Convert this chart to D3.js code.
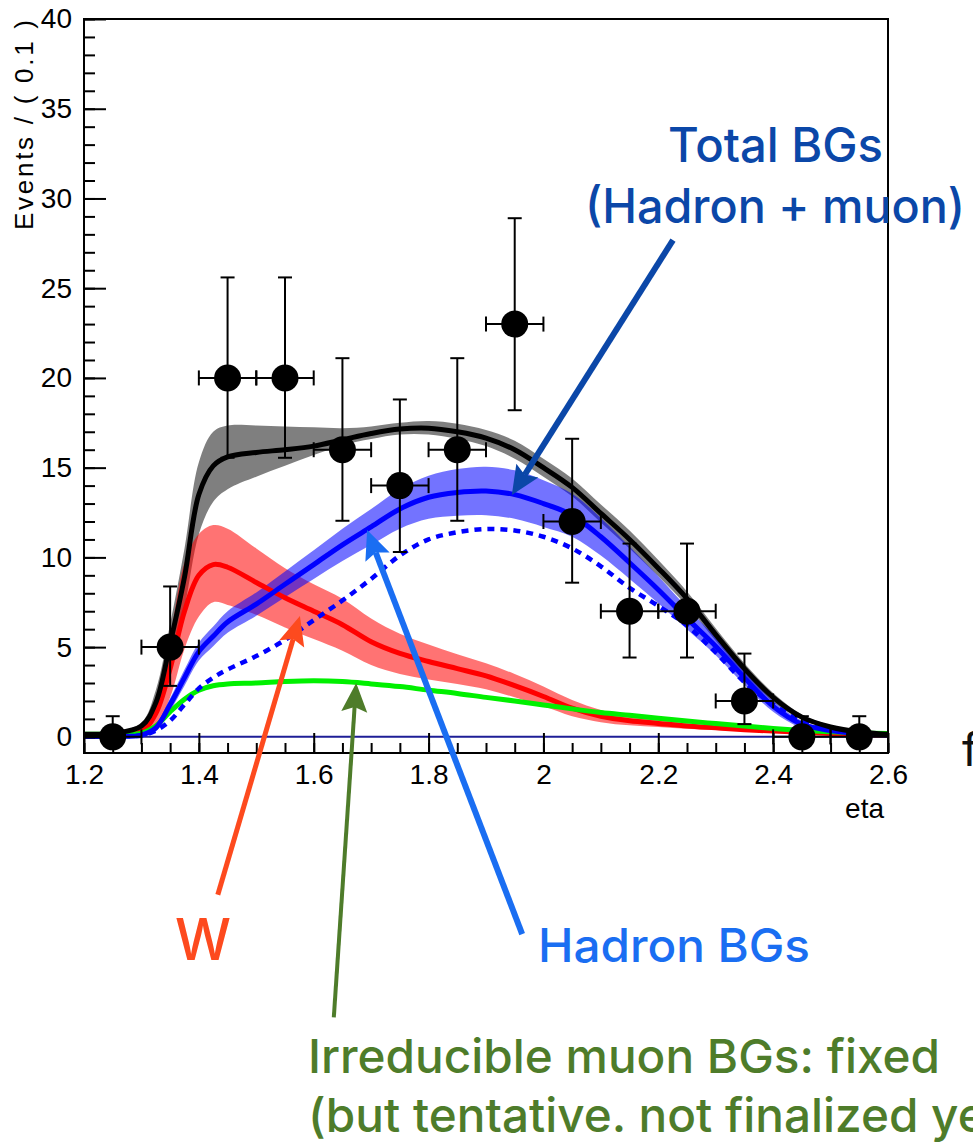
<!DOCTYPE html>
<html>
<head>
<meta charset="utf-8">
<script src="https://cdn.jsdelivr.net/npm/d3@7"></script>
<style>
  body { margin: 0; background: #fff; }
  svg { display: block; }
</style>
</head>
<body>
<svg id="chart" width="973" height="1143"></svg>
<script>
// ---- model curves, sampled on an eta grid ----
const etaGrid = [1.2, 1.25, 1.3, 1.325, 1.35, 1.375, 1.4, 1.425, 1.45, 1.5, 1.55, 1.6, 1.65, 1.7, 1.75, 1.8,
                 1.85, 1.9, 1.95, 2.0, 2.05, 2.1, 2.15, 2.2, 2.25, 2.3, 2.35, 2.4, 2.45, 2.5, 2.55, 2.6];

// total background (hadron + muon)
const totalFit   = [0.15, 0.2, 0.6, 1.9, 5.2, 8.9, 13.5, 15.1, 15.6, 15.85, 16.0, 16.2, 16.55, 16.9, 17.15, 17.2,
                    17.0, 16.65, 16.0, 15.0, 13.9, 12.45, 11.0, 9.4, 7.7, 5.7, 3.8, 2.2, 1.1, 0.55, 0.27, 0.15];
const totalUpper = [0.2, 0.25, 0.8, 2.6, 6.3, 10.5, 15.3, 17.0, 17.35, 17.35, 17.3, 17.25, 17.2, 17.3, 17.5, 17.6,
                    17.45, 17.1, 16.5, 15.5, 14.4, 12.95, 11.5, 9.85, 8.1, 6.05, 4.1, 2.45, 1.25, 0.65, 0.32, 0.18];
const totalLower = [0.1, 0.15, 0.4, 1.3, 4.0, 7.2, 11.3, 13.1, 13.8, 14.5, 15.1, 15.7, 16.25, 16.6, 16.85, 16.85,
                    16.6, 16.2, 15.5, 14.5, 13.4, 11.95, 10.5, 8.95, 7.3, 5.35, 3.5, 1.95, 0.95, 0.45, 0.22, 0.12];

// hadron background
const hadronFit   = [0.02, 0.03, 0.1, 0.5, 1.8, 3.3, 4.75, 5.6, 6.4, 7.4, 8.5, 9.6, 10.7, 11.7, 12.7, 13.35,
                     13.62, 13.7, 13.5, 13.0, 12.35, 11.15, 9.7, 8.2, 6.6, 5.05, 3.3, 1.7, 0.7, 0.35, 0.18, 0.1];
const hadronUpper = [0.03, 0.04, 0.15, 0.7, 2.15, 3.75, 5.25, 6.15, 7.0, 8.05, 9.22, 10.4, 11.6, 12.7, 13.8, 14.55,
                     14.92, 15.05, 14.85, 14.3, 13.55, 12.2, 10.6, 8.95, 7.2, 5.55, 3.7, 2.0, 0.9, 0.45, 0.23, 0.13];
const hadronLower = [0.01, 0.02, 0.05, 0.3, 1.45, 2.85, 4.25, 5.05, 5.8, 6.75, 7.78, 8.8, 9.8, 10.7, 11.6, 12.15,
                     12.32, 12.35, 12.15, 11.7, 11.15, 10.1, 8.8, 7.45, 6.0, 4.55, 2.9, 1.4, 0.5, 0.25, 0.13, 0.07];

// hadron background before the fit (dashed)
const hadronInit = [0.02, 0.03, 0.08, 0.35, 0.9, 1.8, 2.7, 3.3, 3.75, 4.5, 5.4, 6.5, 7.6, 8.8, 10.1, 11.0,
                    11.4, 11.58, 11.5, 11.15, 10.5, 9.5, 8.3, 7.3, 6.2, 4.7, 3.05, 1.8, 0.9, 0.42, 0.18, 0.1];

// W signal
const wFit   = [0.05, 0.08, 0.3, 1.3, 3.8, 7.0, 9.0, 9.6, 9.45, 8.6, 7.75, 7.0, 6.25, 5.3, 4.65, 4.2,
                3.8, 3.4, 2.85, 2.25, 1.6, 1.15, 0.9, 0.75, 0.6, 0.5, 0.4, 0.32, 0.25, 0.19, 0.14, 0.1];
const wUpper = [0.06, 0.1, 0.45, 2.0, 5.5, 9.7, 11.3, 11.8, 11.6, 10.5, 9.4, 8.5, 7.7, 6.6, 5.75, 5.15,
                4.6, 4.1, 3.5, 2.8, 2.05, 1.5, 1.18, 0.95, 0.76, 0.62, 0.5, 0.39, 0.3, 0.23, 0.17, 0.12];
const wLower = [0.04, 0.06, 0.15, 0.6, 2.2, 4.9, 6.7, 7.5, 7.35, 6.8, 6.1, 5.45, 4.8, 4.0, 3.5, 3.2,
                2.95, 2.65, 2.2, 1.7, 1.15, 0.82, 0.64, 0.55, 0.45, 0.38, 0.31, 0.25, 0.2, 0.15, 0.11, 0.08];

// irreducible muon background (fixed)
const muonFit = [0.15, 0.15, 0.2, 0.6, 1.4, 2.1, 2.6, 2.85, 2.95, 3.0, 3.08, 3.12, 3.08, 2.95, 2.8, 2.6,
                 2.42, 2.2, 2.0, 1.78, 1.56, 1.36, 1.2, 1.04, 0.88, 0.74, 0.6, 0.47, 0.36, 0.28, 0.22, 0.18];

// ---- measured data ----
const dataEta    = [1.25, 1.35, 1.45, 1.55, 1.65, 1.75, 1.85, 1.95, 2.05, 2.15, 2.25, 2.35, 2.45, 2.55];
const dataCounts = [0, 5, 20, 20, 16, 14, 16, 23, 12, 7, 7, 2, 0, 0];
const errLow     = [0, 2.16, 4.45, 4.45, 3.96, 3.7, 3.96, 4.8, 3.41, 2.58, 2.58, 1.29, 0, 0];
const errHigh    = [1.15, 3.38, 5.6, 5.6, 5.1, 4.8, 5.1, 5.9, 4.61, 3.77, 3.77, 2.64, 1.15, 1.15];
const binHalfWidth = 0.05;

// ---- axis ticks ----
const xMajorTicks = [1.2, 1.4, 1.6, 1.8, 2.0, 2.2, 2.4, 2.6];
const yMajorTicks = [0, 5, 10, 15, 20, 25, 30, 35, 40];

// ---- drawing ----
const svg = d3.select("#chart");
svg.append("rect").attr("width", 973).attr("height", 1143).attr("fill", "#fff");

const frame = { left: 84, right: 888, top: 19, bottom: 753 };
const x = d3.scaleLinear().domain([1.2, 2.6]).range([frame.left, frame.right]);
const y = d3.scaleLinear().domain([-0.9, 40]).range([frame.bottom, frame.top]);

const defs = svg.append("defs");
defs.append("clipPath").attr("id", "plot-clip")
  .append("rect").attr("x", frame.left).attr("y", frame.top)
  .attr("width", frame.right - frame.left).attr("height", frame.bottom - frame.top);

const plot = svg.append("g").attr("clip-path", "url(#plot-clip)");

// zero line
plot.append("line")
  .attr("x1", x(1.2)).attr("x2", x(2.6)).attr("y1", y(0)).attr("y2", y(0))
  .attr("stroke", "#1e1e96").attr("stroke-width", 2);

const curve = d3.curveCatmullRom.alpha(0.5);
// error bands are drawn as half-tone fills
function band(lower, upper, color, opacity) {
  const area = d3.area().curve(curve)
    .x((d, i) => x(etaGrid[i])).y0((d, i) => y(lower[i])).y1((d, i) => y(upper[i]));
  plot.append("path").datum(etaGrid).attr("d", area)
    .attr("fill", color).attr("fill-opacity", opacity);
}
function line(values, color, width, dash) {
  const gen = d3.line().curve(curve).x((d, i) => x(etaGrid[i])).y(d => y(d));
  const p = plot.append("path").datum(values).attr("d", gen)
    .attr("fill", "none").attr("stroke", color).attr("stroke-width", width)
    .attr("stroke-linejoin", "round");
  if (dash) p.attr("stroke-dasharray", dash);
}

band(totalLower, totalUpper, "#000", 0.5);
band(wLower, wUpper, "#ff0000", 0.55);
band(hadronLower, hadronUpper, "#0000ff", 0.55);

line(wFit, "#ff0000", 5);
line(muonFit, "#00f000", 5);
line(hadronInit, "#0000ff", 4.5, "7,6");
line(hadronFit, "#0000ff", 5);
line(totalFit, "#000", 5);

// data points with error bars
const pts = plot.append("g").selectAll("g").data(dataEta).join("g");
pts.each(function(e, i) {
  const g = d3.select(this);
  const cx = x(e), cy = y(dataCounts[i]);
  const yTop = y(dataCounts[i] + errHigh[i]);
  const yBot = y(dataCounts[i] - errLow[i]);
  const xl = x(e - binHalfWidth), xr = x(e + binHalfWidth);
  const s = (sel) => sel.attr("stroke", "#000").attr("stroke-width", 2);
  s(g.append("line").attr("x1", xl).attr("x2", xr).attr("y1", cy).attr("y2", cy));
  s(g.append("line").attr("x1", xl).attr("x2", xl).attr("y1", cy - 7.5).attr("y2", cy + 7.5));
  s(g.append("line").attr("x1", xr).attr("x2", xr).attr("y1", cy - 7.5).attr("y2", cy + 7.5));
  s(g.append("line").attr("x1", cx).attr("x2", cx).attr("y1", yTop).attr("y2", cy));
  s(g.append("line").attr("x1", cx - 7).attr("x2", cx + 7).attr("y1", yTop).attr("y2", yTop));
  if (errLow[i] > 0) {
    s(g.append("line").attr("x1", cx).attr("x2", cx).attr("y1", cy).attr("y2", yBot));
    s(g.append("line").attr("x1", cx - 7).attr("x2", cx + 7).attr("y1", yBot).attr("y2", yBot));
  }
  g.append("circle").attr("cx", cx).attr("cy", cy).attr("r", 13.5).attr("fill", "#000");
});

// frame
svg.append("rect")
  .attr("x", frame.left).attr("y", frame.top)
  .attr("width", frame.right - frame.left).attr("height", frame.bottom - frame.top)
  .attr("fill", "none").attr("stroke", "#000").attr("stroke-width", 2);

// axes (ticks point inward)
const axisFont = "'Liberation Sans', Arial, Helvetica, sans-serif";
const xMinor = d3.range(1.2, 2.6001, 0.05).map(v => +v.toFixed(2));
const yMinor = d3.range(0, 41, 1);

function styleAxis(g) {
  g.select(".domain").remove();
  g.selectAll("line").attr("stroke", "#000").attr("stroke-width", 2);
  g.selectAll("text").attr("fill", "#000").style("font-family", axisFont).style("font-size", "28px");
}

svg.append("g").attr("transform", `translate(0,${frame.bottom})`)
  .call(d3.axisBottom(x).tickValues(xMinor).tickSize(-10).tickFormat(""))
  .call(styleAxis);
svg.append("g").attr("transform", `translate(0,${frame.bottom})`)
  .call(d3.axisBottom(x).tickValues(xMajorTicks).tickSize(-20).tickPadding(11)
        .tickFormat(d => d3.format("")(+d.toFixed(1))))
  .call(styleAxis);

svg.append("g").attr("transform", `translate(${frame.left},0)`)
  .call(d3.axisLeft(y).tickValues(yMinor).tickSize(-11).tickFormat(""))
  .call(styleAxis);
svg.append("g").attr("transform", `translate(${frame.left},0)`)
  .call(d3.axisLeft(y).tickValues(yMajorTicks).tickSize(-22).tickPadding(12).tickFormat(d3.format("d")))
  .call(styleAxis);

// axis titles
svg.append("text").attr("x", 884).attr("y", 818).attr("text-anchor", "end")
  .style("font-family", axisFont).style("font-size", "28px").text("eta");
svg.append("text").attr("transform", "translate(33,20) rotate(-90)")
  .attr("text-anchor", "end")
  .attr("textLength", 210).attr("lengthAdjust", "spacing")
  .style("font-family", axisFont).style("font-size", "26px").text("Events / ( 0.1 )");

// ---- annotations ----
const noteFont = "Inter, 'Noto Sans', sans-serif";
function note(txt, px, py, size, color, width) {
  const t = svg.append("text").attr("x", px).attr("y", py)
    .style("font-family", noteFont).style("font-size", size + "px").style("font-weight", 500)
    .attr("fill", color).text(txt);
  if (width) t.attr("textLength", width).attr("lengthAdjust", "spacingAndGlyphs");
  return t;
}

// arrows: tail and tip in (eta, events)
const arrows = [
  { tail: [2.2256, 27.68], tip: [1.945, 13.47], color: "#0b47a8", w: 6 },
  { tail: [1.963, -10.99], tip: [1.693, 11.52], color: "#1a6ef2", w: 6 },
  { tail: [1.433, -8.8],   tip: [1.576, 6.73],  color: "#fd4a1e", w: 5 },
  { tail: [1.635, -15.63], tip: [1.674, 3.0],   color: "#4e7c2a", w: 4 }
];
arrows.forEach(a => {
  const x1 = x(a.tail[0]), y1 = y(a.tail[1]), x2 = x(a.tip[0]), y2 = y(a.tip[1]);
  const len = Math.hypot(x2 - x1, y2 - y1);
  const dx = (x2 - x1) / len, dy = (y2 - y1) / len;
  const nx = -dy, ny = dx;
  const L = 29, W = 13, notch = 5;
  const bx = x2 - dx * L, by = y2 - dy * L;
  svg.append("line").attr("x1", x1).attr("y1", y1)
    .attr("x2", x2 - dx * (L - notch)).attr("y2", y2 - dy * (L - notch))
    .attr("stroke", a.color).attr("stroke-width", a.w);
  const head = d3.path();
  head.moveTo(x2, y2);
  head.lineTo(bx + nx * W, by + ny * W);
  head.lineTo(x2 - dx * (L - notch), y2 - dy * (L - notch));
  head.lineTo(bx - nx * W, by - ny * W);
  head.closePath();
  svg.append("path").attr("d", head.toString()).attr("fill", a.color);
});

note("Total BGs", 668, 162, 48, "#0b47a8", 215);
note("(Hadron + muon)", 585, 223, 48, "#0b47a8", 380);
note("W", 175, 960, 58, "#fd4a1e", 56);
note("Hadron BGs", 538, 962, 46, "#1a6ef2", 272);

const g1 = note("Irreducible muon BGs: fixed", 308, 1073, 47, "#4e7c2a");
const g2 = note("(but tentative. not finalized yet)", 308, 1132, 47, "#4e7c2a");
const ratio = 632 / g1.node().getComputedTextLength();
const len2 = g2.node().getComputedTextLength();
g1.attr("textLength", 632).attr("lengthAdjust", "spacingAndGlyphs");
g2.attr("textLength", len2 * ratio).attr("lengthAdjust", "spacingAndGlyphs");

svg.append("text").attr("x", 962).attr("y", 766)
  .style("font-family", noteFont).style("font-size", "46px").attr("fill", "#111").text("f");
</script>
</body>
</html>
